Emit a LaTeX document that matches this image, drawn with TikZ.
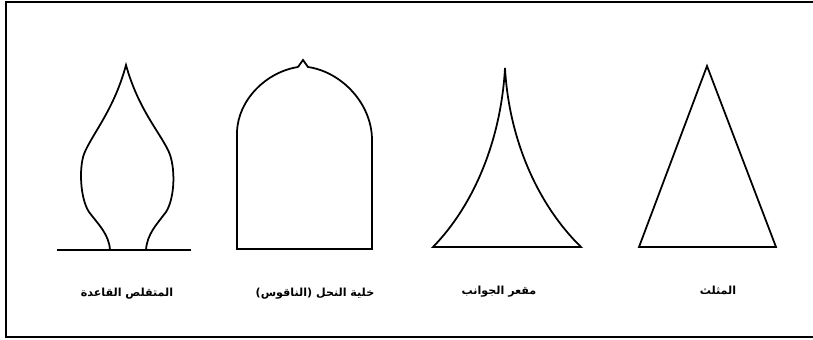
\documentclass[tikz,border=0pt]{standalone}
\usepackage{fontspec}
\newfontfamily\arabicfont[Script=Arabic]{DejaVu Sans}
\TeXXeTstate=1
\usetikzlibrary{positioning}

\begin{document}
\begin{tikzpicture}[
        x=0.03cm, y=-0.03cm,
        figline/.style={line width=1.5pt, line join=miter},
        lbl/.style={font=\arabicfont\bfseries\fontsize{9.5}{12}\selectfont, inner sep=1pt}
    ]
        \useasboundingbox (0,0) rectangle (813,340);

        % Frame
        \draw[line width=1pt] (813,2) -- (6,2) -- (6,337) -- (813,337);

        % Base points
        \coordinate (pinched) at (127,250);
        \coordinate (beehive) at (315,250);
        \coordinate (concave) at (499,248);
        \coordinate (triangle) at (718,248);

        % Pinched base
        \draw[figline] (57,250) -- (191,250);
        \draw[figline] (110,250) .. controls (109,234) and (98,224) .. (89,212)
            .. controls (80,198) and (79,168) .. (84,154)
            .. controls (92,134) and (114,110) .. (126,65)
            .. controls (138,108) and (158,130) .. (168,150)
            .. controls (176,166) and (175,198) .. (166,212)
            .. controls (157,224) and (147,234) .. (146,250);

        % Beehive
        \draw[figline] (298,67) -- (303,60) -- (308,67)
            .. controls (342,72) and (372,104) .. (372,140)
            -- (372,249) -- (237,249) -- (237,132)
            .. controls (238,100) and (266,72) .. (298,67);

        % Concave sides
        \draw[figline] (433,247) .. controls (474,205) and (501,140) .. (505,68)
            .. controls (509,140) and (538,205) .. (581,247) -- cycle;

        % Triangle
        \draw[figline] (639,247) -- (707,66) -- (776,247) -- cycle;

        % Labels
        \node[lbl, below=1.1cm of pinched] (pinchedlbl) {\beginR المتقلص القاعدة\endR};
        \node[lbl, below=1.1cm of beehive] (beehivelbl) {\beginR خلية النحل (الناقوس)\endR};
        \node[lbl, below=1.1cm of concave] (concavelbl) {\beginR مقعر الجوانب\endR};
        \node[lbl, below=1.1cm of triangle] (trianglelbl) {\beginR المثلث\endR};
\end{tikzpicture}
\end{document}
